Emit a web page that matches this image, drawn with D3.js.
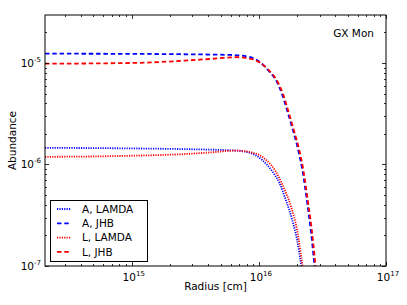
<!DOCTYPE html>
<html>
<head>
<meta charset="utf-8">
<script src="https://cdn.jsdelivr.net/npm/d3@7"></script>
<style>
  body { margin: 0; background: #fff; }
  svg { display: block; font-family: "DejaVu Sans", sans-serif; }
  .lbl { font-size: 10.5px; fill: #000; }
</style>
</head>
<body>
<svg id="chart" width="407" height="305"></svg>
<script>
// radius [cm] and abundance
const aLamdaR = [2.08e14, 1e15, 2.38e15, 6.62e15, 8.4e15, 1.06e16, 1.28e16, 1.45e16, 1.63e16, 1.83e16, 2.0e16, 2.14e16, 2.3e16];
const aLamdaY = [1.46e-6, 1.44e-6, 1.42e-6, 1.37e-6, 1.31e-6, 1.11e-6, 8.5e-7, 6.6e-7, 4.47e-7, 2.84e-7, 1.8e-7, 1.07e-7, 6e-8];

const aJhbR = [2.08e14, 1e15, 2.38e15, 6e15, 8.4e15, 1.01e16, 1.21e16, 1.36e16, 1.53e16, 1.67e16, 1.85e16, 2.05e16, 2.2e16, 2.4e16, 2.56e16, 2.72e16, 2.85e16];
const aJhbY = [1.235e-5, 1.23e-5, 1.22e-5, 1.2e-5, 1.15e-5, 1.03e-5, 8.2e-6, 6.8e-6, 4.84e-6, 3.4e-6, 2.2e-6, 1.35e-6, 8.8e-7, 4.2e-7, 2.26e-7, 1.1e-7, 6e-8];

const lLamdaR = [2.08e14, 5e14, 1e15, 2.38e15, 4e15, 6.6e15, 8.9e15, 1.14e16, 1.36e16, 1.53e16, 1.79e16, 2.0e16, 2.19e16, 2.35e16];
const lLamdaY = [1.19e-6, 1.2e-6, 1.22e-6, 1.26e-6, 1.31e-6, 1.37e-6, 1.31e-6, 1.11e-6, 8.5e-7, 6.35e-7, 3.84e-7, 2.26e-7, 1.07e-7, 6e-8];

const lJhbR = [2.08e14, 1e15, 2.38e15, 4.1e15, 6.66e15, 8.7e15, 1.03e16, 1.23e16, 1.38e16, 1.56e16, 1.7e16, 1.88e16, 2.09e16, 2.24e16, 2.44e16, 2.61e16, 2.77e16, 2.9e16];
const lJhbY = [9.84e-6, 1.0e-5, 1.047e-5, 1.095e-5, 1.14e-5, 1.095e-5, 1.0e-5, 8.2e-6, 6.8e-6, 4.84e-6, 3.4e-6, 2.2e-6, 1.35e-6, 8.8e-7, 4.2e-7, 2.26e-7, 1.1e-7, 6e-8];

const seriesNames = ["A, LAMDA", "A, JHB", "L, LAMDA", "L, JHB"];
const xTickExps = [15, 16, 17];
const yTickExps = [-7, -6, -5];

const series = [
  { name: seriesNames[0], r: aLamdaR, y: aLamdaY, color: "#0000ff", dash: "1.2,1.2", w: 1.8 },
  { name: seriesNames[1], r: aJhbR, y: aJhbY, color: "#0000ff", dash: "4.5,2.8", w: 1.8 },
  { name: seriesNames[2], r: lLamdaR, y: lLamdaY, color: "#ff0000", dash: "1.2,1.2", w: 1.8 },
  { name: seriesNames[3], r: lJhbR, y: lJhbY, color: "#ff0000", dash: "4.5,2.8", w: 1.8 }
];

const svg = d3.select("#chart");
const pLeft = 45, pRight = 386, pTop = 15, pBottom = 266;

const x = d3.scaleLog().domain([2.08e14, 1e17]).range([pLeft, pRight]);
const y = d3.scaleLog().domain([1e-7, 2.97e-5]).range([pBottom, pTop]);

svg.append("defs").append("clipPath").attr("id", "plotclip")
  .append("rect")
  .attr("x", pLeft).attr("y", pTop)
  .attr("width", pRight - pLeft).attr("height", pBottom - pTop);

const plot = svg.append("g").attr("clip-path", "url(#plotclip)");

const line = d3.line()
  .x(d => x(d[0]))
  .y(d => y(d[1]))
  .curve(d3.curveMonotoneX);

series.forEach(s => {
  plot.append("path")
    .datum(s.r.map((r, i) => [r, s.y[i]]))
    .attr("d", line)
    .attr("fill", "none")
    .attr("stroke", s.color)
    .attr("stroke-width", s.w)
    .attr("stroke-dasharray", s.dash);
});

// ticks, pointing inward on all four sides
const ticks = svg.append("g").attr("stroke", "#000").attr("stroke-width", 0.8);

function minorList(lo, hi) {
  const out = [];
  for (let e = lo; e < hi; e++) {
    for (let m = 1; m < 10; m++) out.push({ v: m * Math.pow(10, e), major: m === 1 });
  }
  out.push({ v: Math.pow(10, hi), major: true });
  return out;
}

minorList(14, 17).forEach(t => {
  if (t.v < x.domain()[0] || t.v > x.domain()[1]) return;
  const px = Math.round(x(t.v)) + 0.5;
  const len = t.major ? 4 : 2;
  ticks.append("line").attr("x1", px).attr("x2", px).attr("y1", pBottom).attr("y2", pBottom - len);
  ticks.append("line").attr("x1", px).attr("x2", px).attr("y1", pTop).attr("y2", pTop + len);
});

minorList(-7, -5).concat([{ v: 2e-5, major: false }]).forEach(t => {
  if (t.v < y.domain()[0] || t.v > y.domain()[1]) return;
  const py = Math.round(y(t.v)) + 0.5;
  const len = t.major ? 4 : 2;
  ticks.append("line").attr("y1", py).attr("y2", py).attr("x1", pLeft).attr("x2", pLeft + len);
  ticks.append("line").attr("y1", py).attr("y2", py).attr("x1", pRight).attr("x2", pRight - len);
});

svg.append("rect")
  .attr("x", pLeft).attr("y", pTop)
  .attr("width", pRight - pLeft).attr("height", pBottom - pTop)
  .attr("fill", "none").attr("stroke", "#000").attr("stroke-width", 1);

// tick labels
function powLabel(g, e) {
  g.append("tspan").text("10");
  g.append("tspan").attr("dy", -5).attr("font-size", "7px").text(e);
}

xTickExps.forEach(e => {
  const t = svg.append("text").attr("class", "lbl")
    .attr("x", x(Math.pow(10, e)) + 2).attr("y", 281)
    .attr("text-anchor", "middle");
  powLabel(t, e);
});

yTickExps.forEach(e => {
  const t = svg.append("text").attr("class", "lbl")
    .attr("x", 41).attr("y", y(Math.pow(10, e)) + 4)
    .attr("text-anchor", "end");
  powLabel(t, e);
});

svg.append("text").attr("class", "lbl")
  .attr("x", (pLeft + pRight) / 2).attr("y", 290)
  .attr("text-anchor", "middle").text("Radius [cm]");

svg.append("text").attr("class", "lbl")
  .attr("transform", `translate(16,${(pTop + pBottom) / 2}) rotate(-90)`)
  .attr("text-anchor", "middle").text("Abundance");

svg.append("text").attr("class", "lbl")
  .attr("x", 374).attr("y", 37)
  .attr("text-anchor", "end").attr("font-size", "11px").text("GX Mon");

// legend
const legend = svg.append("g");
legend.append("rect")
  .attr("x", 50.5).attr("y", 200.5).attr("width", 97).attr("height", 61)
  .attr("fill", "#fff").attr("stroke", "#000").attr("stroke-width", 1);

series.forEach((s, i) => {
  const ly = 209 + i * 14.3;
  legend.append("line")
    .attr("x1", 57).attr("x2", 71).attr("y1", ly).attr("y2", ly)
    .attr("stroke", s.color).attr("stroke-width", s.w)
    .attr("stroke-dasharray", s.dash);
  legend.append("text").attr("class", "lbl")
    .attr("x", 82).attr("y", ly + 3.7).attr("font-size", "10px")
    .text(s.name);
});
</script>
</body>
</html>
